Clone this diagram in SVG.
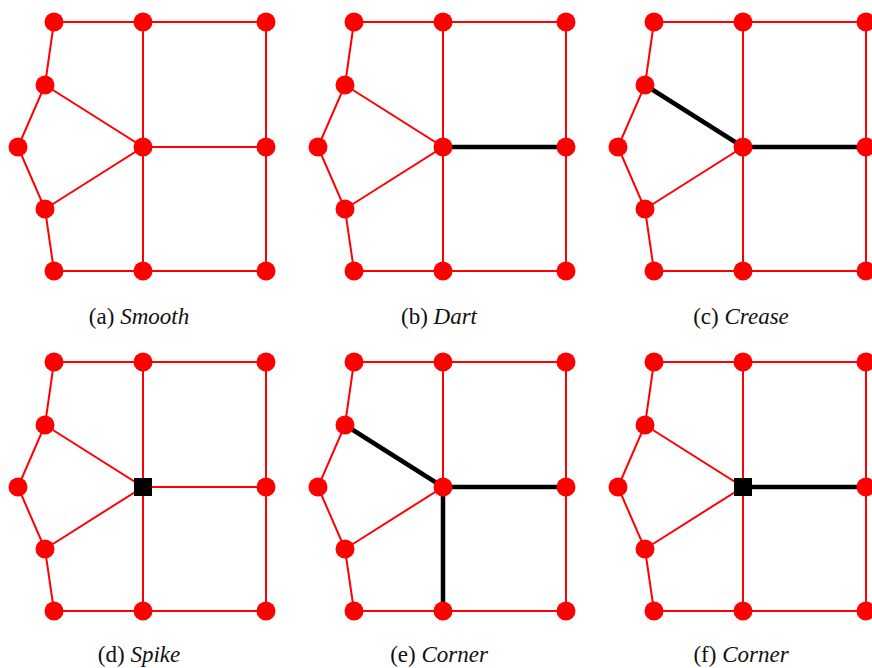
<svg xmlns="http://www.w3.org/2000/svg" width="872" height="668" viewBox="0 0 872 668">
<style>
.e{stroke:#ff0000;stroke-width:2;fill:none}
.b{stroke:#000;stroke-width:4.5;fill:none}
.n{fill:#ff0000}
.s{fill:#000}
.lbl{font-size:23px;fill:#111;text-anchor:middle}
.it{font-style:italic}
</style>
<defs>
<g id="mesh">
<path class="e" d="M54,22H143H266M54,271H143H266M143,22V271M266,22V271M54,22L45,85L18,147L45,209L54,271M45,85L143,147L45,209M143,147H266"/>
</g>
<g id="dots">
<circle class="n" cx="54" cy="22" r="9.5"/><circle class="n" cx="143" cy="22" r="9.5"/><circle class="n" cx="266" cy="22" r="9.5"/>
<circle class="n" cx="45" cy="85" r="9.5"/><circle class="n" cx="18" cy="147" r="9.5"/><circle class="n" cx="266" cy="147" r="9.5"/>
<circle class="n" cx="45" cy="209" r="9.5"/><circle class="n" cx="54" cy="271" r="9.5"/><circle class="n" cx="143" cy="271" r="9.5"/>
<circle class="n" cx="266" cy="271" r="9.5"/>
</g>
</defs>
<g id="panel-a">
<g id="a-connectors"><use href="#mesh"/></g>
<g id="a-nodes"><use href="#dots"/></g>
<g id="a-center"><circle class="n" cx="143" cy="147" r="9.5"/></g>
<text class="lbl" font-family="'Liberation Serif', 'Times New Roman', serif" x="139" y="324">(a) <tspan class="it">Smooth</tspan></text>
</g>
<g id="panel-b" transform="translate(300,0)">
<g id="b-connectors"><use href="#mesh"/><path class="b" d="M143,147H266"/></g>
<g id="b-nodes"><use href="#dots"/></g>
<g id="b-center"><circle class="n" cx="143" cy="147" r="9.5"/></g>
<text class="lbl" font-family="'Liberation Serif', 'Times New Roman', serif" x="139" y="324">(b) <tspan class="it">Dart</tspan></text>
</g>
<g id="panel-c" transform="translate(600,0)">
<g id="c-connectors"><use href="#mesh"/><path class="b" d="M45,85L143,147H266"/></g>
<g id="c-nodes"><use href="#dots"/></g>
<g id="c-center"><circle class="n" cx="143" cy="147" r="9.5"/></g>
<text class="lbl" font-family="'Liberation Serif', 'Times New Roman', serif" x="141" y="324">(c) <tspan class="it">Crease</tspan></text>
</g>
<g id="panel-d" transform="translate(0,340)">
<g id="d-connectors"><use href="#mesh"/></g>
<g id="d-nodes"><use href="#dots"/></g>
<g id="d-center"><rect class="s" x="134" y="138" width="18" height="18"/></g>
<text class="lbl" font-family="'Liberation Serif', 'Times New Roman', serif" x="139" y="322">(d) <tspan class="it">Spike</tspan></text>
</g>
<g id="panel-e" transform="translate(300,340)">
<g id="e-connectors"><use href="#mesh"/><path class="b" d="M45,85L143,147H266M143,147V271"/></g>
<g id="e-nodes"><use href="#dots"/></g>
<g id="e-center"><circle class="n" cx="143" cy="147" r="9.5"/></g>
<text class="lbl" font-family="'Liberation Serif', 'Times New Roman', serif" x="139" y="322">(e) <tspan class="it">Corner</tspan></text>
</g>
<g id="panel-f" transform="translate(600,340)">
<g id="f-connectors"><use href="#mesh"/><path class="b" d="M143,147H266"/></g>
<g id="f-nodes"><use href="#dots"/></g>
<g id="f-center"><rect class="s" x="134" y="138" width="18" height="18"/></g>
<text class="lbl" font-family="'Liberation Serif', 'Times New Roman', serif" x="141" y="322">(f) <tspan class="it">Corner</tspan></text>
</g>
</svg>
